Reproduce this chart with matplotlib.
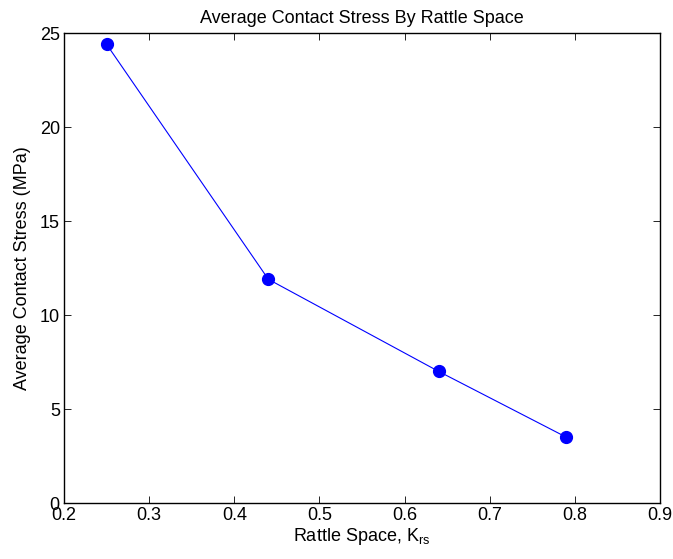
import matplotlib
matplotlib.use("Agg")
import matplotlib.pyplot as plt

plt.rcParams['font.family'] = ['Liberation Sans', 'DejaVu Sans']
plt.rcParams['mathtext.fontset'] = 'custom'
plt.rcParams['mathtext.rm'] = 'Liberation Sans'
plt.rcParams['mathtext.it'] = 'Liberation Sans'

rattle_space = [0.25, 0.44, 0.64, 0.79]
contact_stress = [24.4, 11.9, 7.0, 3.5]
x_ticks = [0.2, 0.3, 0.4, 0.5, 0.6, 0.7, 0.8, 0.9]
y_ticks = [0, 5, 10, 15, 20, 25]

fig = plt.figure(figsize=(6.73, 5.59), dpi=100)
ax = fig.add_axes([64 / 673, 56 / 559, 596 / 673, 470 / 559])

ax.plot(rattle_space, contact_stress, '-o', color='#0000ff', lw=0.8,
        markersize=8.5, markerfacecolor='#0000ff', markeredgecolor='#0000ff')

ax.set_xlim(0.2, 0.9)
ax.set_ylim(0, 25)
ax.set_xticks(x_ticks)
ax.set_xticklabels([f"{v:g}" for v in x_ticks])
ax.set_yticks(y_ticks)
ax.set_yticklabels([str(v) for v in y_ticks])
ax.tick_params(direction='in', top=True, right=True, length=5, width=0.6,
               labelsize=13, pad=3)
for s in ax.spines.values():
    s.set_linewidth(1.0)

ax.set_title('Average Contact Stress By Rattle Space', fontsize=13, pad=7)
ax.set_xlabel(r'Rattle Space, K$_{\rm rs}$', fontsize=13, labelpad=1)
ax.set_ylabel('Average Contact Stress (MPa)', fontsize=13, labelpad=6)

fig.savefig('out.png', dpi=100)
